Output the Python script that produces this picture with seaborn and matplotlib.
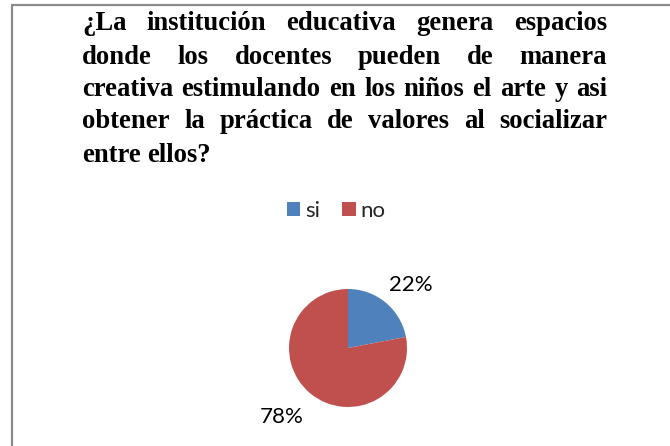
import matplotlib
matplotlib.use("Agg")
import matplotlib.pyplot as plt
import seaborn as sns
from matplotlib.lines import Line2D
from matplotlib.patches import Patch

title_lines = [
    "¿La institución educativa genera espacios",
    "donde los docentes pueden de manera",
    "creativa estimulando en los niños el arte y asi",
    "obtener la práctica de valores al socializar",
    "entre ellos?",
]
labels = ["si", "no"]
shares = [22, 78]
colors = ["#4F81BD", "#C0504D"]

sns.set_style("white")
plt.rcParams["font.family"] = ["Lato", "DejaVu Sans"]

W, H = 670, 446
fig = plt.figure(figsize=(W / 100, H / 100), dpi=100)
fig.patch.set_facecolor("white")

# frame (left and top edges visible)
fig.add_artist(Line2D([11.5 / W, 11.5 / W], [0, 1 - 4.5 / H], transform=fig.transFigure,
                      color="#8a8a8a", lw=1.6))
fig.add_artist(Line2D([11.5 / W, 1], [1 - 4.5 / H, 1 - 4.5 / H], transform=fig.transFigure,
                      color="#8a8a8a", lw=1.6))

# justified title
renderer = fig.canvas.get_renderer()
left, right = 82, 607
line_y = [24, 57, 90, 122, 155]
title_font = dict(family="Liberation Serif", weight="bold", size=19.2, color="black")
for i, line in enumerate(title_lines):
    words = line.split(" ")
    y = 1 - line_y[i] / H
    texts = [fig.text(0, y, w, va="center", ha="left", **title_font) for w in words]
    widths = [t.get_window_extent(renderer).width for t in texts]
    if i < len(title_lines) - 1:
        gap = (right - left - sum(widths)) / (len(words) - 1)
    else:
        gap = 6
    x = left
    for t, w in zip(texts, widths):
        t.set_x(x / W)
        x += w + gap

# legend
handles = [Patch(facecolor=c, edgecolor="none") for c in colors]
fig.legend(handles, labels, loc="center", bbox_to_anchor=(336 / W, 1 - 211 / H), ncol=2,
           frameon=False, fontsize=16, handlelength=0.62, handleheight=0.62,
           handletextpad=0.2, columnspacing=1.0)

# pie
cx, cy, r = 348, 348, 59
ax = fig.add_axes([(cx - r) / W, 1 - (cy + r) / H, 2 * r / W, 2 * r / H])
wedges, texts, autotexts = ax.pie(shares, colors=colors, startangle=90, counterclock=False,
                                  autopct="%d%%", pctdistance=1.5,
                                  textprops=dict(fontsize=16, color="black"),
                                  wedgeprops=dict(linewidth=0))
autotexts[0].set_position((1.07, 1.07))
autotexts[1].set_position((-1.12, -1.17))
ax.set_aspect("equal")
ax.set_xlim(-1, 1)
ax.set_ylim(-1, 1)
ax.axis("off")

fig.savefig("out.png", dpi=100)
